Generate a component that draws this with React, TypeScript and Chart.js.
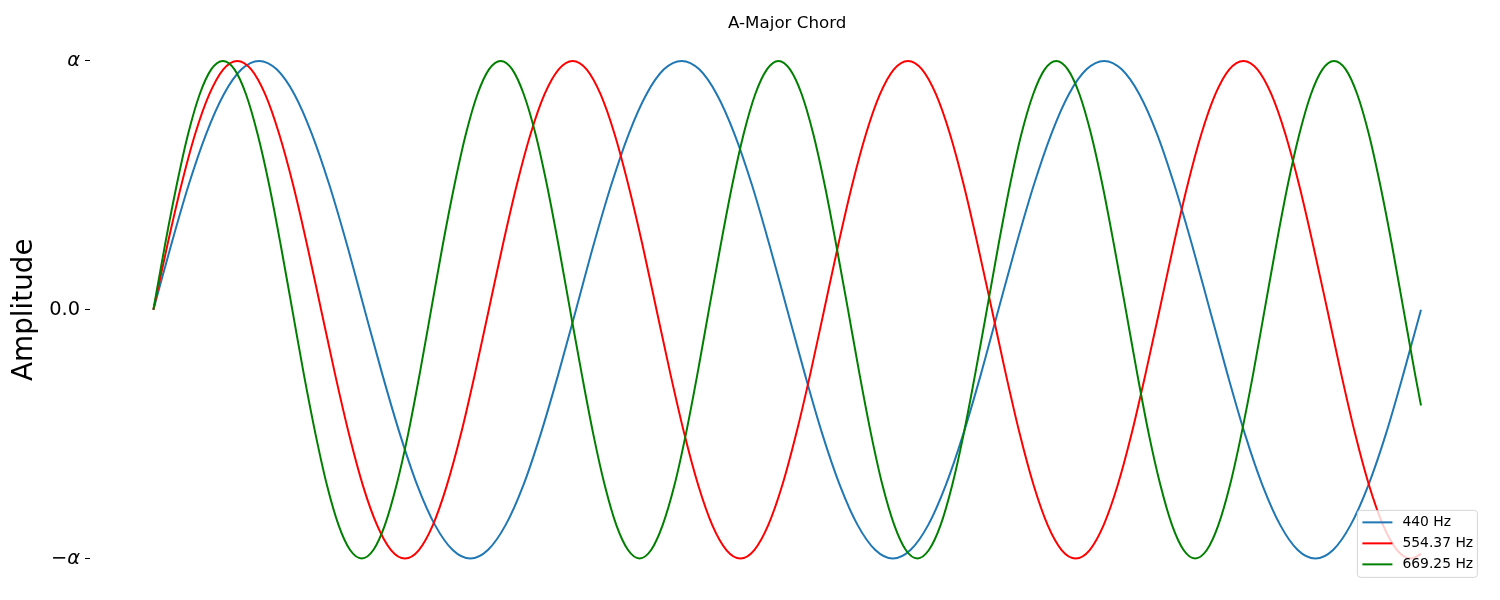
import React, { useEffect, useRef } from "react";
import { Chart, registerables } from "chart.js";

Chart.register(...registerables);

const chartTitle = "A-Major Chord";
const yAxisTitle = "Amplitude";
const seriesLabels = ["440 Hz", "554.37 Hz", "669.25 Hz"];
const seriesColors = ["#1f77b4", "#ff0000", "#008000"];
const yTickValues = [-1, 0, 1];
const yTickLabels = ["\u2212\u03b1", "0.0", "\u03b1"];

// time in ms, amplitude
const time440 = [
  0, 0.095, 0.189, 0.284, 0.379, 0.474, 0.568, 0.663, 0.758, 0.852, 0.947, 1.042,
  1.136, 1.231, 1.326, 1.42, 1.515, 1.61, 1.705, 1.799, 1.894, 1.989, 2.083, 2.178,
  2.273, 2.367, 2.462, 2.557, 2.652, 2.746, 2.841, 2.936, 3.03, 3.125, 3.22, 3.314,
  3.409, 3.504, 3.598, 3.693, 3.788, 3.883, 3.977, 4.072, 4.167, 4.261, 4.356, 4.451,
  4.545, 4.64, 4.735, 4.83, 4.924, 5.019, 5.114, 5.208, 5.303, 5.398, 5.492, 5.587,
  5.682, 5.777, 5.871, 5.966, 6.061, 6.155, 6.25, 6.345, 6.439, 6.534, 6.629, 6.723,
  6.818,
];
const amp440 = [
  0, 0.259, 0.5, 0.707, 0.866, 0.966, 1, 0.966, 0.866, 0.707, 0.5, 0.259,
  0, -0.259, -0.5, -0.707, -0.866, -0.966, -1, -0.966, -0.866, -0.707, -0.5, -0.259,
  0, 0.259, 0.5, 0.707, 0.866, 0.966, 1, 0.966, 0.866, 0.707, 0.5, 0.259,
  0, -0.259, -0.5, -0.707, -0.866, -0.966, -1, -0.966, -0.866, -0.707, -0.5, -0.259,
  0, 0.259, 0.5, 0.707, 0.866, 0.966, 1, 0.966, 0.866, 0.707, 0.5, 0.259,
  0, -0.259, -0.5, -0.707, -0.866, -0.966, -1, -0.966, -0.866, -0.707, -0.5, -0.259,
  0,
];

const time554 = [
  0, 0.075, 0.15, 0.225, 0.301, 0.376, 0.451, 0.526, 0.601, 0.676, 0.752, 0.827,
  0.902, 0.977, 1.052, 1.127, 1.203, 1.278, 1.353, 1.428, 1.503, 1.578, 1.654, 1.729,
  1.804, 1.879, 1.954, 2.029, 2.104, 2.18, 2.255, 2.33, 2.405, 2.48, 2.555, 2.631,
  2.706, 2.781, 2.856, 2.931, 3.006, 3.082, 3.157, 3.232, 3.307, 3.382, 3.457, 3.533,
  3.608, 3.683, 3.758, 3.833, 3.908, 3.983, 4.059, 4.134, 4.209, 4.284, 4.359, 4.434,
  4.51, 4.585, 4.66, 4.735, 4.81, 4.885, 4.961, 5.036, 5.111, 5.186, 5.261, 5.336,
  5.412, 5.487, 5.562, 5.637, 5.712, 5.787, 5.863, 5.938, 6.013, 6.088, 6.163, 6.238,
  6.314, 6.389, 6.464, 6.539, 6.614, 6.689, 6.764, 6.818,
];
const amp554 = [
  0, 0.259, 0.5, 0.707, 0.866, 0.966, 1, 0.966, 0.866, 0.707, 0.5, 0.259,
  0, -0.259, -0.5, -0.707, -0.866, -0.966, -1, -0.966, -0.866, -0.707, -0.5, -0.259,
  0, 0.259, 0.5, 0.707, 0.866, 0.966, 1, 0.966, 0.866, 0.707, 0.5, 0.259,
  0, -0.259, -0.5, -0.707, -0.866, -0.966, -1, -0.966, -0.866, -0.707, -0.5, -0.259,
  0, 0.259, 0.5, 0.707, 0.866, 0.966, 1, 0.966, 0.866, 0.707, 0.5, 0.259,
  0, -0.259, -0.5, -0.707, -0.866, -0.966, -1, -0.966, -0.866, -0.707, -0.5, -0.259,
  0, 0.259, 0.5, 0.707, 0.866, 0.966, 1, 0.966, 0.866, 0.707, 0.5, 0.259,
  0, -0.259, -0.5, -0.707, -0.866, -0.966, -1, -0.982,
];

const time669 = [
  0, 0.062, 0.125, 0.187, 0.249, 0.311, 0.374, 0.436, 0.498, 0.56, 0.623, 0.685,
  0.747, 0.809, 0.872, 0.934, 0.996, 1.058, 1.121, 1.183, 1.245, 1.307, 1.37, 1.432,
  1.494, 1.556, 1.619, 1.681, 1.743, 1.805, 1.868, 1.93, 1.992, 2.055, 2.117, 2.179,
  2.241, 2.304, 2.366, 2.428, 2.49, 2.553, 2.615, 2.677, 2.739, 2.802, 2.864, 2.926,
  2.988, 3.051, 3.113, 3.175, 3.237, 3.3, 3.362, 3.424, 3.487, 3.549, 3.611, 3.673,
  3.736, 3.798, 3.86, 3.922, 3.985, 4.047, 4.109, 4.171, 4.234, 4.296, 4.358, 4.42,
  4.483, 4.545, 4.607, 4.669, 4.732, 4.794, 4.856, 4.918, 4.981, 5.043, 5.105, 5.167,
  5.23, 5.292, 5.354, 5.417, 5.479, 5.541, 5.603, 5.666, 5.728, 5.79, 5.852, 5.915,
  5.977, 6.039, 6.101, 6.164, 6.226, 6.288, 6.35, 6.413, 6.475, 6.537, 6.599, 6.662,
  6.724, 6.786, 6.818,
];
const amp669 = [
  0, 0.259, 0.5, 0.707, 0.866, 0.966, 1, 0.966, 0.866, 0.707, 0.5, 0.259,
  0, -0.259, -0.5, -0.707, -0.866, -0.966, -1, -0.966, -0.866, -0.707, -0.5, -0.259,
  0, 0.259, 0.5, 0.707, 0.866, 0.966, 1, 0.966, 0.866, 0.707, 0.5, 0.259,
  0, -0.259, -0.5, -0.707, -0.866, -0.966, -1, -0.966, -0.866, -0.707, -0.5, -0.259,
  0, 0.259, 0.5, 0.707, 0.866, 0.966, 1, 0.966, 0.866, 0.707, 0.5, 0.259,
  0, -0.259, -0.5, -0.707, -0.866, -0.966, -1, -0.966, -0.866, -0.707, -0.5, -0.259,
  0, 0.259, 0.5, 0.707, 0.866, 0.966, 1, 0.966, 0.866, 0.707, 0.5, 0.259,
  0, -0.259, -0.5, -0.707, -0.866, -0.966, -1, -0.966, -0.866, -0.707, -0.5, -0.259,
  0, 0.259, 0.5, 0.707, 0.866, 0.966, 1, 0.966, 0.866, 0.707, 0.5, 0.259,
  0, -0.259, -0.385,
];

const xMin = -0.341;
const xMax = 7.159;
const yMin = -1.1;
const yMax = 1.1;

const FONT = "'DejaVu Sans', sans-serif";

const titlePlugin = {
  id: "mplTitle",
  afterDraw(chart: any) {
    const { ctx, chartArea } = chart;
    ctx.save();
    ctx.font = `16.7px ${FONT}`;
    ctx.fillStyle = "#000";
    ctx.textAlign = "center";
    ctx.textBaseline = "alphabetic";
    ctx.fillText(chartTitle, (chartArea.left + chartArea.right) / 2, chartArea.top - 8);
    ctx.restore();
  },
};

const legendPlugin = {
  id: "mplLegend",
  afterDraw(chart: any) {
    const { ctx, chartArea } = chart;
    const fontSize = 13.9;
    const rowH = 21;
    const boxW = 120;
    const boxH = 67;
    const right = chartArea.right - 7;
    const bottom = chartArea.bottom - 6;
    const left = right - boxW;
    const top = bottom - boxH;
    ctx.save();
    ctx.beginPath();
    const r = 3;
    ctx.moveTo(left + r, top);
    ctx.lineTo(right - r, top);
    ctx.quadraticCurveTo(right, top, right, top + r);
    ctx.lineTo(right, bottom - r);
    ctx.quadraticCurveTo(right, bottom, right - r, bottom);
    ctx.lineTo(left + r, bottom);
    ctx.quadraticCurveTo(left, bottom, left, bottom - r);
    ctx.lineTo(left, top + r);
    ctx.quadraticCurveTo(left, top, left + r, top);
    ctx.closePath();
    ctx.fillStyle = "rgba(255,255,255,0.8)";
    ctx.fill();
    ctx.strokeStyle = "rgba(204,204,204,0.8)";
    ctx.lineWidth = 1;
    ctx.stroke();
    ctx.font = `${fontSize}px ${FONT}`;
    ctx.textBaseline = "middle";
    ctx.textAlign = "left";
    chart.data.datasets.forEach((ds: any, i: number) => {
      const y = top + 12 + i * rowH;
      ctx.strokeStyle = ds.borderColor;
      ctx.lineWidth = 2;
      ctx.beginPath();
      ctx.moveTo(left + 5, y);
      ctx.lineTo(left + 35, y);
      ctx.stroke();
      ctx.fillStyle = "#000";
      ctx.fillText(ds.label, left + 45, y);
    });
    ctx.restore();
  },
};

export default function App() {
  const canvasRef = useRef<HTMLCanvasElement>(null);

  useEffect(() => {
    if (!canvasRef.current) return;
    const series = [
      { t: time440, a: amp440 },
      { t: time554, a: amp554 },
      { t: time669, a: amp669 },
    ];
    const chart = new Chart(canvasRef.current, {
      type: "line",
      data: {
        datasets: series.map((s, i) => ({
          label: seriesLabels[i],
          data: s.t.map((t, j) => ({ x: t, y: s.a[j] })),
          borderColor: seriesColors[i],
          backgroundColor: seriesColors[i],
          borderWidth: 2,
          pointRadius: 0,
          cubicInterpolationMode: "monotone" as const,
          fill: false,
          order: 3 - i,
        })),
      },
      options: {
        responsive: false,
        animation: false,
        devicePixelRatio: 1,
        layout: { padding: { left: 0, right: 15.6, top: 36, bottom: 16 } },
        plugins: {
          legend: { display: false },
          tooltip: { enabled: false },
          title: { display: false },
        },
        scales: {
          x: {
            type: "linear",
            display: false,
            min: xMin,
            max: xMax,
          },
          y: {
            type: "linear",
            min: yMin,
            max: yMax,
            afterFit: (scale: any) => {
              scale.width = 90;
            },
            afterBuildTicks: (scale: any) => {
              scale.ticks = yTickValues.map((v) => ({ value: v }));
            },
            border: { display: false },
            grid: {
              drawOnChartArea: false,
              drawTicks: true,
              tickLength: 5,
              color: "#000",
              lineWidth: 1,
            },
            ticks: {
              color: "#000",
              padding: 5,
              callback: (_v: any, i: number) => yTickLabels[i],
              font: (ctx: any) => ({
                family: FONT,
                size: 19.4,
                style: ctx.tick && ctx.tick.value !== 0 ? "italic" : "normal",
              }),
            },
            title: {
              display: true,
              text: yAxisTitle,
              color: "#000",
              font: { family: FONT, size: 27.8 },
              padding: { top: 8, bottom: 0 },
            },
          },
        },
      },
      plugins: [titlePlugin, legendPlugin],
    });
    return () => chart.destroy();
  }, []);

  return (
    <div style={{ position: "absolute", left: 0, top: 0, width: 1500, height: 600, background: "#fff" }}>
      <canvas ref={canvasRef} width={1500} height={600} />
    </div>
  );
}
